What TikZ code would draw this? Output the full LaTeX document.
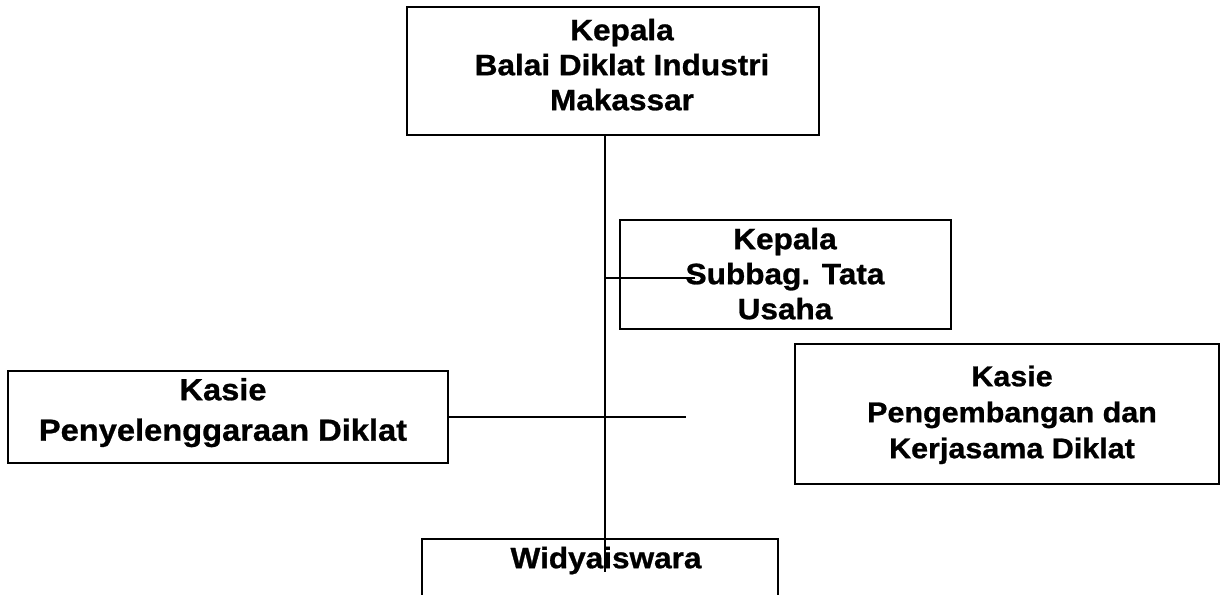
\documentclass[tikz,border=0pt]{standalone}
\usepackage{fontspec}
\setmainfont{Liberation Sans}[FakeStretch=1.07,BoldFeatures={FakeBold=0.9}]
\begin{document}
\begin{tikzpicture}[x=1pt,y=-1pt,
  box/.style={draw=black, line width=2pt, rectangle, inner sep=0pt},
  txt/.style={anchor=north, inner sep=0pt, align=center, text=black},
  conn/.style={draw=black, line width=1.5pt}]
\useasboundingbox (0,0) rectangle (1228,594);
\fill[white] (0,0) rectangle (1228,594);
\clip (0,0) rectangle (1228,594);
% boxes
\node[box, minimum width=412pt, minimum height=128pt] (top) at (613,71) {};
\node[box, minimum width=331pt, minimum height=109pt] (subbag) at (785.5,274.5) {};
\node[box, minimum width=440pt, minimum height=92pt] (penyel) at (228,417) {};
\node[box, minimum width=424pt, minimum height=140pt] (peng) at (1007,414) {};
\node[box, minimum width=356pt, minimum height=101pt] (widy) at (600,589.5) {};
% texts
\node[txt, font=\bfseries\fontsize{29.5}{35}\selectfont] (toptxt) at (622,14)
  {\rule{0pt}{26pt}Kepala\\Balai Diklat Industri\\Makassar};
\node[txt, font=\bfseries\fontsize{29.5}{35}\selectfont] (subbagtxt) at (785,223)
  {\rule{0pt}{26pt}Kepala\\Subbag. Tata\\Usaha};
\node[txt, font=\bfseries\fontsize{30.5}{40.5}\selectfont] (penyeltxt) at (223,374)
  {\rule{0pt}{26pt}Kasie\\Penyelenggaraan Diklat};
\node[txt, font=\bfseries\fontsize{28.5}{36}\selectfont] (pengtxt) at (1012,360)
  {\rule{0pt}{26pt}Kasie\\Pengembangan dan\\Kerjasama Diklat};
\node[txt, font=\bfseries\fontsize{29.5}{35}\selectfont] (widytxt) at (606,542)
  {\rule{0pt}{26pt}Widyaiswara};
% connectors
\coordinate (vend) at (605,572);
\coordinate (sbend) at (695,278);
\coordinate (pend) at (686,417);
\draw[conn] (top.south -| vend) -- (vend);
\draw[conn] (sbend -| vend) -- (sbend);
\draw[conn] (penyel.east) -- (pend);
\end{tikzpicture}
\end{document}
